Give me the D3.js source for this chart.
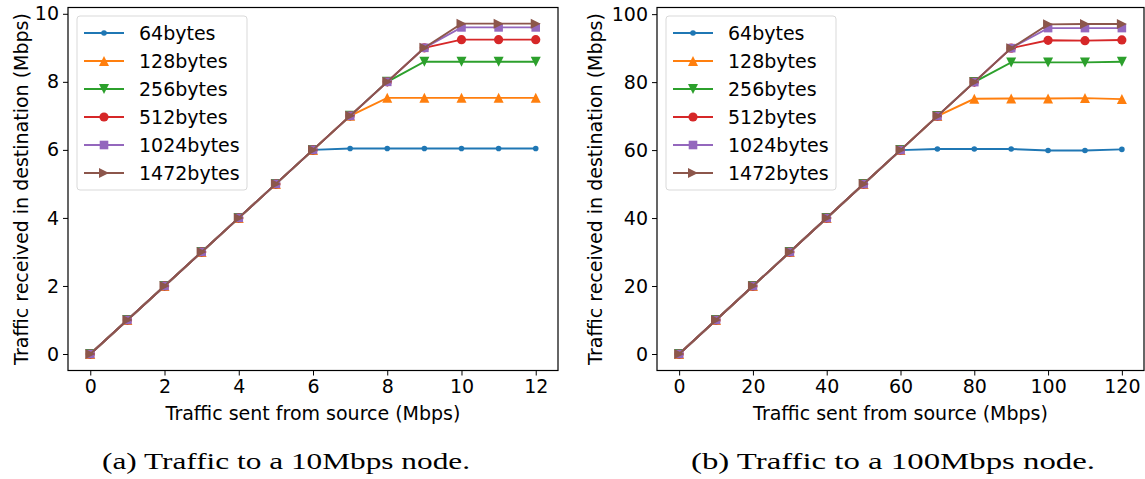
<!DOCTYPE html>
<html>
<head>
<meta charset="utf-8">
<script src="https://cdn.jsdelivr.net/npm/d3@7"></script>
<style>
  body { margin: 0; background: #fff; }
  svg text { font-family: "DejaVu Sans", sans-serif; }
  svg text.caption { font-family: "Liberation Serif", serif; }
</style>
</head>
<body>
<script>
// series names and colours
const seriesNames = ["64bytes", "128bytes", "256bytes", "512bytes", "1024bytes", "1472bytes"];
const seriesColors = ["#1f77b4", "#ff7f0e", "#2ca02c", "#d62728", "#9467bd", "#8c564b"];
const seriesMarkers = ["point", "triUp", "triDown", "circle", "square", "triRight"];

// (a) 10Mbps node
const sentA = [0, 1, 2, 3, 4, 5, 6, 7, 8, 9, 10, 11, 12];
const a64   = [0, 1, 2, 3, 4, 5, 6, 6.04, 6.04, 6.04, 6.04, 6.04, 6.04];
const a128  = [0, 1, 2, 3, 4, 5, 6, 7, 7.53, 7.53, 7.53, 7.53, 7.53];
const a256  = [0, 1, 2, 3, 4, 5, 6, 7, 8, 8.59, 8.59, 8.59, 8.59];
const a512  = [0, 1, 2, 3, 4, 5, 6, 7, 8, 9, 9.24, 9.24, 9.24];
const a1024 = [0, 1, 2, 3, 4, 5, 6, 7, 8, 9, 9.6, 9.6, 9.6];
const a1472 = [0, 1, 2, 3, 4, 5, 6, 7, 8, 9, 9.71, 9.71, 9.71];
const xTicksA = [0, 2, 4, 6, 8, 10, 12];
const yTicksA = [0, 2, 4, 6, 8, 10];

// (b) 100Mbps node
const sentB = [0, 10, 20, 30, 40, 50, 60, 70, 80, 90, 100, 110, 120];
const b64   = [0, 10, 20, 30, 40, 50, 60, 60.3, 60.3, 60.3, 59.9, 59.9, 60.2];
const b128  = [0, 10, 20, 30, 40, 50, 60, 70, 75.1, 75.2, 75.2, 75.3, 75.0];
const b256  = [0, 10, 20, 30, 40, 50, 60, 70, 80, 85.8, 85.8, 85.8, 86.0];
const b512  = [0, 10, 20, 30, 40, 50, 60, 70, 80, 90, 92.3, 92.2, 92.4];
const b1024 = [0, 10, 20, 30, 40, 50, 60, 70, 80, 90, 95.9, 95.9, 95.9];
const b1472 = [0, 10, 20, 30, 40, 50, 60, 70, 80, 90, 97.0, 97.1, 97.1];
const xTicksB = [0, 20, 40, 60, 80, 100, 120];
const yTicksB = [0, 20, 40, 60, 80, 100];

const W = 1145, H = 479;
const FS = 19;
const svg = d3.select("body").append("svg")
    .attr("width", W)
    .attr("height", H);

function marker(g, type, color, cx, cy) {
    let p;
    if (type === "point") {
        g.append("circle").attr("cx", cx).attr("cy", cy).attr("r", 2.8).attr("fill", color);
        return;
    }
    if (type === "circle") {
        g.append("circle").attr("cx", cx).attr("cy", cy).attr("r", 4.6).attr("fill", color);
        return;
    }
    const s = 5;
    if (type === "square") p = `M${cx - 4.3},${cy - 4.3}h8.6v8.6h-8.6Z`;
    if (type === "triUp") p = `M${cx},${cy - s}L${cx + s},${cy + s}L${cx - s},${cy + s}Z`;
    if (type === "triDown") p = `M${cx},${cy + s}L${cx + s},${cy - s}L${cx - s},${cy - s}Z`;
    if (type === "triRight") p = `M${cx + s},${cy}L${cx - s},${cy - s}L${cx - s},${cy + s}Z`;
    g.append("path").attr("d", p).attr("fill", color);
}

function drawPanel(opt) {
    const x = d3.scaleLinear().domain(opt.xDomain).range([opt.left, opt.right]);
    const y = d3.scaleLinear().domain(opt.yDomain).range([opt.bottom, opt.top]);
    const g = svg.append("g");

    // series
    opt.series.forEach((vals, i) => {
        const pts = opt.sent.map((s, j) => [s, vals[j]]);
        const line = d3.line().x(d => x(d[0])).y(d => y(d[1]));
        g.append("path")
            .datum(pts)
            .attr("d", line)
            .attr("fill", "none")
            .attr("stroke", seriesColors[i])
            .attr("stroke-width", 1.9);
        const mg = g.append("g");
        pts.forEach(d => marker(mg, seriesMarkers[i], seriesColors[i], x(d[0]), y(d[1])));
    });

    // axes
    const xAxis = d3.axisBottom(x).tickValues(opt.xTicks).tickSize(5).tickPadding(4);
    const yAxis = d3.axisLeft(y).tickValues(opt.yTicks).tickSize(5).tickPadding(4);
    const gx = svg.append("g").attr("transform", `translate(0,${opt.bottom})`).call(xAxis);
    const gy = svg.append("g").attr("transform", `translate(${opt.left},0)`).call(yAxis);
    [gx, gy].forEach(a => {
        a.attr("font-size", null).attr("font-family", null);
        a.select(".domain").remove();
        a.selectAll("text").style("font-size", FS + "px").attr("fill", "#000");
        a.selectAll("line").attr("stroke", "#000").attr("stroke-width", 1);
    });

    // frame
    svg.append("rect")
        .attr("x", opt.left).attr("y", opt.top)
        .attr("width", opt.right - opt.left).attr("height", opt.bottom - opt.top)
        .attr("fill", "none").attr("stroke", "#000").attr("stroke-width", 1.2);

    // axis labels
    svg.append("text")
        .attr("x", (x(opt.xDomain[0]) + x(opt.xDomain[1])) / 2)
        .attr("y", 420)
        .attr("text-anchor", "middle")
        .style("font-size", FS + "px")
        .text("Traffic sent from source (Mbps)");
    svg.append("text")
        .attr("transform", `translate(${opt.yLabelX},${(opt.top + opt.bottom) / 2}) rotate(-90)`)
        .attr("text-anchor", "middle")
        .style("font-size", FS + "px")
        .text("Traffic received in destination (Mbps)");

    // legend
    const lx = opt.left + 9, ly = 16;
    const lg = svg.append("g");
    lg.append("rect")
        .attr("x", lx).attr("y", ly).attr("width", 170).attr("height", 174)
        .attr("rx", 3)
        .attr("fill", "#fff").attr("fill-opacity", 0.8)
        .attr("stroke", "#d9d9d9").attr("stroke-width", 1);
    seriesNames.forEach((name, i) => {
        const cy = ly + 17 + i * 28;
        lg.append("line")
            .attr("x1", lx + 7).attr("x2", lx + 47)
            .attr("y1", cy).attr("y2", cy)
            .attr("stroke", seriesColors[i]).attr("stroke-width", 1.9);
        marker(lg, seriesMarkers[i], seriesColors[i], lx + 27, cy);
        lg.append("text")
            .attr("x", lx + 62).attr("y", cy + 7)
            .style("font-size", FS + "px")
            .text(name);
    });

    // caption
    svg.append("text")
        .attr("class", "caption")
        .attr("x", opt.captionX)
        .attr("y", 469)
        .attr("text-anchor", "middle")
        .style("font-size", "23px")
        .attr("textLength", opt.captionLen)
        .attr("lengthAdjust", "spacingAndGlyphs")
        .text(opt.caption);
}

drawPanel({
    sent: sentA,
    series: [a64, a128, a256, a512, a1024, a1472],
    xDomain: [-0.6, 12.6], yDomain: [-0.485, 10.185],
    left: 68, right: 558, top: 7.5, bottom: 370.5,
    xTicks: xTicksA, yTicks: yTicksA,
    yLabelX: 27.5,
    captionX: 286, captionLen: 368,
    caption: "(a)  Traffic to a 10Mbps node."
});

drawPanel({
    sent: sentB,
    series: [b64, b128, b256, b512, b1024, b1472],
    xDomain: [-6, 126], yDomain: [-4.855, 101.955],
    left: 657, right: 1144, top: 7.5, bottom: 370.5,
    xTicks: xTicksB, yTicks: yTicksB,
    yLabelX: 602,
    captionX: 893, captionLen: 404,
    caption: "(b)  Traffic to a 100Mbps node."
});
</script>
</body>
</html>
